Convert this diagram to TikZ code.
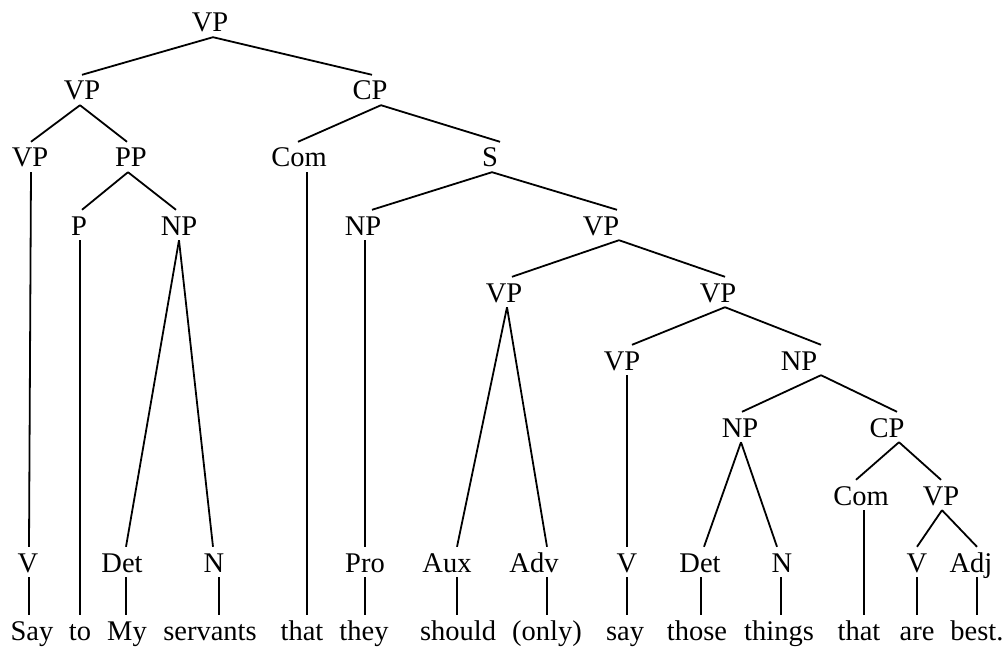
\documentclass[tikz,border=0pt]{standalone}
\usepackage{fontspec}
\setmainfont{Liberation Serif}
\begin{document}
\begin{tikzpicture}[x=1pt,y=-1pt,
  lab/.style={anchor=base, inner xsep=0pt, inner ysep=3pt, text height=22pt, text depth=2pt, font=\fontsize{28.5}{34}\selectfont},
  edge/.style={line width=1.8pt}]
\useasboundingbox (0,0) rectangle (1006,647);
% phrase nodes
\node[lab] (root) at (210,32) {VP};
\node[lab] (vp2) at (82,100) {VP};
\node[lab] (cp1) at (370,100) {CP};
\node[lab] (vp3) at (30,167) {VP};
\node[lab] (pp) at (131,167) {PP};
\node[lab] (com1) at (299,167) {Com};
\node[lab] (s) at (490,167) {S};
\node[lab] (p) at (79,235) {P};
\node[lab] (np1) at (179,235) {NP};
\node[lab] (np2) at (363,235) {NP};
\node[lab] (vps) at (601,235) {VP};
\node[lab] (vpl) at (504,302) {VP};
\node[lab] (vpr) at (718,302) {VP};
\node[lab] (vpsay) at (622,370) {VP};
\node[lab] (npo) at (799,370) {NP};
\node[lab] (npt) at (740,437) {NP};
\node[lab] (cp2) at (887,437) {CP};
\node[lab] (com2) at (861,505) {Com};
\node[lab] (vpa) at (941,505) {VP};
% pre-terminals
\node[lab] (v1) at (28,572) {V};
\node[lab] (det1) at (122,572) {Det};
\node[lab] (n1) at (214,572) {N};
\node[lab] (pro) at (365,572) {Pro};
\node[lab] (aux) at (447,572) {Aux};
\node[lab] (adv) at (534,572) {Adv};
\node[lab] (v2) at (627,572) {V};
\node[lab] (det2) at (700,572) {Det};
\node[lab] (n2) at (782,572) {N};
\node[lab] (v3) at (917,572) {V};
\node[lab] (adj) at (971,572) {Adj};
% words
\node[lab] (w1) at (32,640) {Say};
\node[lab] (w2) at (80,640) {to};
\node[lab] (w3) at (127,640) {My};
\node[lab] (w4) at (210,640) {servants};
\node[lab] (w5) at (302,640) {that};
\node[lab] (w6) at (364,640) {they};
\node[lab] (w7) at (458,640) {should};
\node[lab] (w8) at (547,640) {(only)};
\node[lab] (w9) at (625,640) {say};
\node[lab] (w10) at (697,640) {those};
\node[lab] (w11) at (779,640) {things};
\node[lab] (w12) at (859,640) {that};
\node[lab] (w13) at (917,640) {are};
\node[lab] (w14) at (977,640) {best.};
% edges
\draw[edge] ([xshift=3pt]root.south) -- (vp2.north);
\draw[edge] ([xshift=3pt]root.south) -- ([xshift=2pt]cp1.north);
\draw[edge] ([xshift=-2pt]vp2.south) -- ([xshift=1pt]vp3.north);
\draw[edge] ([xshift=-2pt]vp2.south) -- ([xshift=-4pt]pp.north);
\draw[edge] ([xshift=1pt]vp3.south) -- ([xshift=1pt]v1.north);
\draw[edge] ([xshift=1pt]v1.south) -- ([xshift=-3pt]w1.north);
\draw[edge] ([xshift=-3pt]pp.south) -- ([xshift=3pt]p.north);
\draw[edge] ([xshift=-3pt]pp.south) -- ([xshift=-3pt]np1.north);
\draw[edge] ([xshift=1pt]p.south) -- (w2.north);
\draw[edge] (np1.south) -- ([xshift=4pt]det1.north);
\draw[edge] (np1.south) -- ([xshift=-1pt]n1.north);
\draw[edge] ([xshift=4pt]det1.south) -- ([xshift=-1pt]w3.north);
\draw[edge] ([xshift=5pt]n1.south) -- ([xshift=9pt]w4.north);
\draw[edge] ([xshift=11pt]cp1.south) -- ([xshift=-1pt]com1.north);
\draw[edge] ([xshift=11pt]cp1.south) -- ([xshift=10pt]s.north);
\draw[edge] ([xshift=8pt]com1.south) -- ([xshift=5pt]w5.north);
\draw[edge] ([xshift=2pt]s.south) -- ([xshift=9pt]np2.north);
\draw[edge] ([xshift=2pt]s.south) -- ([xshift=16pt]vps.north);
\draw[edge] ([xshift=2pt]np2.south) -- (pro.north);
\draw[edge] (pro.south) -- ([xshift=1pt]w6.north);
\draw[edge] ([xshift=18pt]vps.south) -- ([xshift=8pt]vpl.north);
\draw[edge] ([xshift=18pt]vps.south) -- ([xshift=7pt]vpr.north);
\draw[edge] ([xshift=3pt]vpl.south) -- ([xshift=10pt]aux.north);
\draw[edge] ([xshift=3pt]vpl.south) -- ([xshift=13pt]adv.north);
\draw[edge] ([xshift=10pt]aux.south) -- ([xshift=-1pt]w7.north);
\draw[edge] ([xshift=13pt]adv.south) -- (w8.north);
\draw[edge] ([xshift=7pt]vpr.south) -- ([xshift=10pt]vpsay.north);
\draw[edge] ([xshift=7pt]vpr.south) -- ([xshift=22pt]npo.north);
\draw[edge] ([xshift=5pt]vpsay.south) -- (v2.north);
\draw[edge] (v2.south) -- ([xshift=2pt]w9.north);
\draw[edge] ([xshift=22pt]npo.south) -- ([xshift=2pt]npt.north);
\draw[edge] ([xshift=22pt]npo.south) -- ([xshift=10pt]cp2.north);
\draw[edge] ([xshift=1pt]npt.south) -- ([xshift=4pt]det2.north);
\draw[edge] ([xshift=1pt]npt.south) -- ([xshift=-5pt]n2.north);
\draw[edge] ([xshift=1pt]det2.south) -- ([xshift=4pt]w10.north);
\draw[edge] ([xshift=-1pt]n2.south) -- ([xshift=2pt]w11.north);
\draw[edge] ([xshift=12pt]cp2.south) -- ([xshift=-5pt]com2.north);
\draw[edge] ([xshift=12pt]cp2.south) -- (vpa.north);
\draw[edge] ([xshift=3pt]com2.south) -- ([xshift=5pt]w12.north);
\draw[edge] ([xshift=1pt]vpa.south) -- (v3.north);
\draw[edge] ([xshift=1pt]vpa.south) -- ([xshift=6pt]adj.north);
\draw[edge] (v3.south) -- (w13.north);
\draw[edge] ([xshift=6pt]adj.south) -- (w14.north);
\end{tikzpicture}
\end{document}
